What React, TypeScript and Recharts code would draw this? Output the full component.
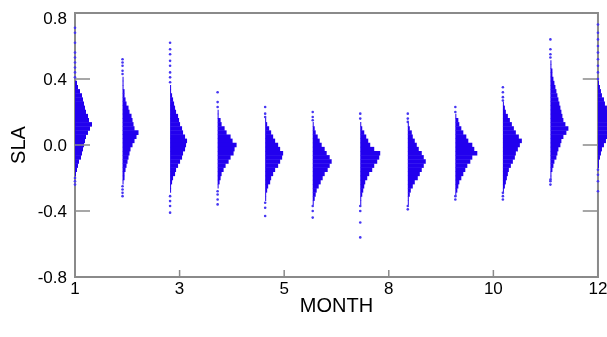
import React from 'react';
import {
  ComposedChart,
  XAxis,
  YAxis,
  Scatter,
  ReferenceArea,
  ReferenceLine,
} from 'recharts';

const MONTHS = [1, 2, 3, 4, 5, 6, 7, 8, 9, 10, 11, 12];
const X_TICKS = [1, 3.2, 5.4, 7.6, 9.8, 12];
const Y_TICKS = [-0.8, -0.4, 0, 0.4, 0.8];

// histogram bins of SLA, 0.025 wide, listed from the top bin down
const BIN = 0.025;
const TOP_BIN = [0.375, 0.4, 0.35, 0.2, 0.15, 0.125, 0.125, 0.125, 0.175, 0.25, 0.5, 0.375];

// relative counts per bin
const jan = [2, 3, 5, 7, 8, 9, 10, 11, 13, 14, 17, 15, 13, 11, 10, 9, 8, 7, 6, 4, 3, 2, 1];
const feb = [1, 1, 1, 2, 2, 3, 4, 6, 7, 9, 10, 11, 12, 16, 14, 12, 10, 8, 7, 6, 5, 4, 3, 2, 2, 1];
const mar = [1, 1, 2, 3, 4, 5, 6, 8, 9, 10, 12, 13, 15, 17, 16, 15, 13, 12, 10, 8, 6, 5, 3, 2, 1, 1];
const apr = [1, 1, 3, 4, 7, 9, 13, 15, 19, 17, 16, 13, 11, 8, 6, 4, 3, 2, 1];
const may = [1, 2, 4, 6, 8, 10, 13, 15, 18, 17, 15, 13, 10, 8, 6, 5, 3, 2, 1, 1];
const jun = [1, 2, 3, 5, 7, 9, 12, 14, 17, 19, 17, 15, 12, 10, 8, 6, 4, 3, 2, 1];
const jul = [1, 2, 4, 6, 8, 10, 14, 20, 19, 17, 14, 12, 9, 7, 5, 4, 3, 2, 1, 1];
const aug = [1, 2, 4, 5, 7, 9, 11, 14, 16, 18, 16, 14, 12, 10, 7, 5, 3, 2, 1, 1];
const sep = [1, 3, 4, 6, 8, 11, 13, 17, 19, 22, 17, 15, 12, 10, 8, 6, 4, 3, 2, 1];
const oct = [1, 2, 3, 5, 7, 9, 11, 13, 16, 19, 17, 15, 13, 12, 10, 8, 6, 5, 4, 3, 2, 1];
const nov = [1, 1, 2, 2, 3, 4, 5, 6, 7, 8, 9, 10, 11, 12, 13, 15, 18, 16, 13, 11, 10, 8, 7, 6, 4, 3, 2, 1, 1];
const dec = [1, 2, 3, 4, 6, 7, 9, 11, 13, 15, 16, 15, 13, 10, 8, 6, 4, 3, 2, 1, 1];
const DENSITY = [jan, feb, mar, apr, may, jun, jul, aug, sep, oct, nov, dec];

// isolated points above / below the bulk of each month
const tailJan = [0.71, 0.68, 0.62, 0.56, 0.53, 0.5, 0.47, 0.44, 0.41, -0.2, -0.22, -0.24];
const tailFeb = [0.52, 0.5, 0.48, 0.45, 0.43, -0.25, -0.27, -0.29, -0.31];
const tailMar = [0.62, 0.58, 0.55, 0.51, 0.48, 0.44, 0.41, 0.38, -0.31, -0.34, -0.37, -0.41];
const tailApr = [0.32, 0.26, 0.23, -0.28, -0.3, -0.33, -0.36];
const tailMay = [0.23, 0.19, 0.17, -0.35, -0.38, -0.43];
const tailJun = [0.2, 0.17, 0.15, -0.37, -0.4, -0.44];
const tailJul = [0.19, 0.16, -0.37, -0.4, -0.47, -0.56];
const tailAug = [0.19, 0.16, 0.14, -0.37, -0.39];
const tailSep = [0.23, 0.2, -0.31, -0.33];
const tailOct = [0.35, 0.32, 0.29, 0.27, -0.29, -0.31, -0.33];
const tailNov = [0.64, 0.58, 0.55, 0.53, -0.21, -0.22, -0.24];
const tailDec = [0.73, 0.68, 0.64, 0.6, 0.56, 0.52, 0.48, 0.44, 0.4, -0.15, -0.18, -0.22, -0.28];
const TAILS = [tailJan, tailFeb, tailMar, tailApr, tailMay, tailJun, tailJul, tailAug, tailSep, tailOct, tailNov, tailDec];

const COUNT_TO_MONTH = 0.021;
const X_MAX = 12.19;
const BLUE = '#2200ee';
const DOT = '#4636f2';
const GRAY = '#8a8a8a';
const FONT = '"Liberation Sans", Arial, sans-serif';

const bins = MONTHS.flatMap((m, mi) =>
  DENSITY[mi].map((d, i) => ({
    month: m,
    sla: TOP_BIN[mi] - i * BIN,
    count: d,
  })),
);

const tailData = MONTHS.flatMap((m, mi) => TAILS[mi].map((v) => ({ x: m, y: v })));

const YTitle = (props: any) => {
  const { viewBox } = props;
  const cx = viewBox.x + 10;
  const cy = viewBox.y + viewBox.height / 2;
  return (
    <text
      x={cx}
      y={cy}
      transform={`rotate(-90 ${cx} ${cy})`}
      textAnchor="middle"
      dominantBaseline="central"
      fontSize={20}
      fontFamily={FONT}
      fill="#000"
    >
      SLA
    </text>
  );
};

const XTitle = (props: any) => {
  const { viewBox } = props;
  const cx = viewBox.x + (viewBox.width * (11 / (X_MAX - 1))) / 2;
  return (
    <text x={cx} y={viewBox.y + 35} textAnchor="middle" fontSize={20} fontFamily={FONT} fill="#000">
      MONTH
    </text>
  );
};

const App = () => {
  return (
    <div style={{ position: 'fixed', left: 8, top: 8 }}>
      <ComposedChart width={599} height={321} margin={{ top: 5, right: 0, bottom: 0, left: 0 }}>
        <XAxis
          xAxisId="top"
          orientation="top"
          type="number"
          domain={[1, X_MAX]}
          allowDataOverflow
          ticks={X_TICKS}
          tickFormatter={() => ''}
          axisLine={false}
          tickLine={{ stroke: GRAY, strokeWidth: 1.5 }}
          tickSize={-7}
          height={0}
        />
        <XAxis
          dataKey="x"
          type="number"
          domain={[1, X_MAX]}
          ticks={X_TICKS}
          tickFormatter={(v: number) => String(Math.round(v))}
          axisLine={false}
          tickLine={{ stroke: GRAY, strokeWidth: 1.5 }}
          tickSize={-7}
          tickMargin={12}
          tick={{ fill: '#000', fontSize: 17, fontFamily: FONT }}
          height={52}
          label={{ content: XTitle }}
        />
        <YAxis
          dataKey="y"
          type="number"
          domain={[-0.8, 0.8]}
          ticks={Y_TICKS}
          tickFormatter={(v: number) => v.toFixed(1)}
          axisLine={false}
          tickLine={{ stroke: GRAY, strokeWidth: 1.5 }}
          tickSize={-15}
          tickMargin={23}
          tick={{ fill: '#000', fontSize: 17, fontFamily: FONT }}
          width={67}
          label={{ content: YTitle }}
        />
        <ReferenceArea x1={1} x2={12} y1={-0.8} y2={0.8} fill="none" stroke={GRAY} strokeWidth={2} />
        {Y_TICKS.map((v) => (
          <ReferenceLine
            key={v}
            segment={[
              { x: 12 - 0.32, y: v },
              { x: 12, y: v },
            ]}
            stroke={GRAY}
            strokeWidth={1.5}
          />
        ))}
        {bins.map((b, i) => (
          <ReferenceArea
            key={`bin-${i}`}
            x1={b.month}
            x2={b.month + b.count * COUNT_TO_MONTH}
            y1={b.sla - BIN * 0.55}
            y2={b.sla + BIN * 0.55}
            ifOverflow="visible"
            fill={BLUE}
            fillOpacity={1}
            stroke="none"
          />
        ))}
        <Scatter
          data={tailData}
          isAnimationActive={false}
          shape={(p: any) => <circle cx={p.cx} cy={p.cy} r={1.3} fill={DOT} />}
        />
      </ComposedChart>
    </div>
  );
};

export default App;
